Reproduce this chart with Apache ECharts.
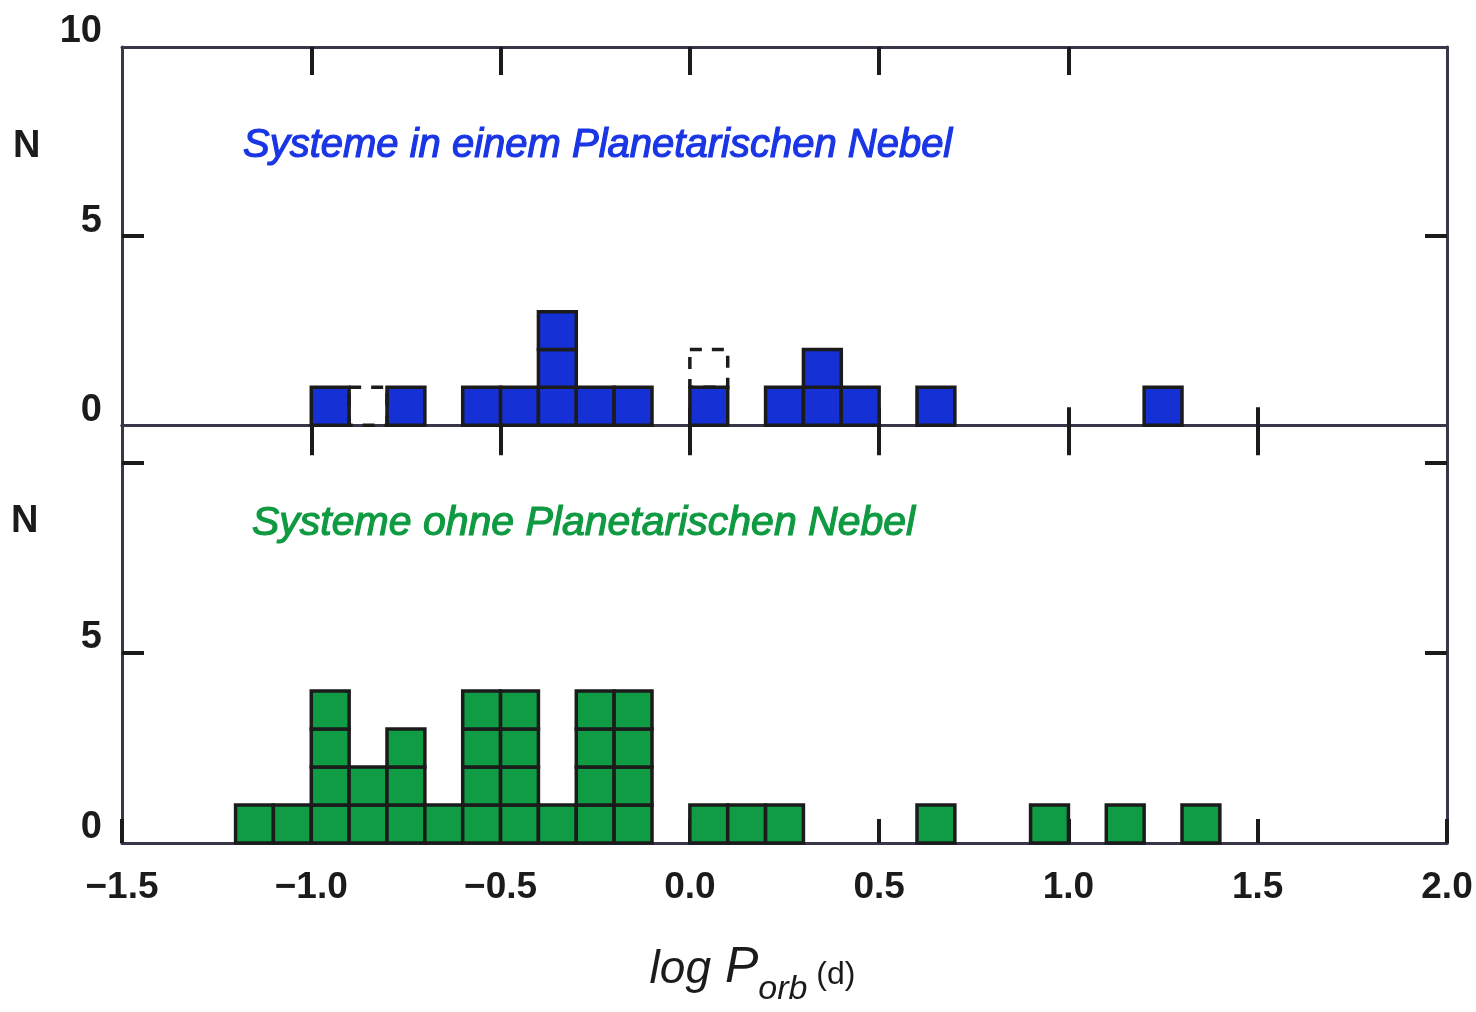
<!DOCTYPE html>
<html>
<head>
<meta charset="utf-8">
<script src="https://cdn.jsdelivr.net/npm/echarts@6/dist/echarts.min.js"></script>
<style>html,body{margin:0;padding:0;background:#fff}#c{width:1476px;height:1012px}</style>
</head>
<body>
<div id="c"></div>
<script>
// ---- data ----
const BIN = 0.1;
// Top panel: systems in a planetary nebula (bin lower edge, count)
const nebulaBins   = [-1.0, -0.8, -0.6, -0.5, -0.4, -0.3, -0.2, 0.0, 0.2, 0.3, 0.4, 0.6, 1.2];
const nebulaCounts = [ 1,    1,    1,    1,    3,    1,    1,   1,   1,   2,   1,   1,   1 ];
// dashed (uncertain) boxes: bin lower edge, level at which the box starts
const nebulaUncertainBins  = [-0.9, 0.0];
const nebulaUncertainLevel = [ 0,   1  ];
// Bottom panel: systems without planetary nebula
const noNebulaBins   = [-1.2, -1.1, -1.0, -0.9, -0.8, -0.7, -0.6, -0.5, -0.4, -0.3, -0.2, 0.0, 0.1, 0.2, 0.6, 0.9, 1.1, 1.3];
const noNebulaCounts = [ 1,    1,    4,    2,    3,    1,    4,    4,    1,    4,    4,   1,   1,   1,   1,   1,   1,   1 ];
// tick values
const xTickLabels = [-1.5, -1.0, -0.5, 0.0, 0.5, 1.0, 1.5, 2.0];
const topFrameTicks = [-1.0, -0.5, 0.0, 0.5, 1.0];
const baselineTicks = [-1.0, -0.5, 0.0, 0.5, 1.0, 1.5];
const topYLabels = [0, 5, 10];
const topYTicks = [5];
const botYLabels = [0, 5];
const botYTicks = [5, 10];

const titleTop = 'Systeme in einem Planetarischen Nebel';
const titleBot = 'Systeme ohne Planetarischen Nebel';

// ---- styling ----
const LINE = '#3a3548';
const INK = '#1b1b1b';
const FONT = "'Liberation Sans', Arial, sans-serif";

function squares(color) {
  return function (params, api) {
    const x0 = api.value(0), n = api.value(1);
    const children = [];
    for (let k = 0; k < n; k++) {
      const p0 = api.coord([x0, k]);
      const p1 = api.coord([x0 + BIN, k + 1]);
      children.push({
        type: 'rect',
        shape: { x: p0[0], y: p1[1], width: p1[0] - p0[0], height: p0[1] - p1[1] },
        style: { fill: color, stroke: INK, lineWidth: 3.5 }
      });
    }
    return { type: 'group', children };
  };
}
function dashedBox(params, api) {
  const x0 = api.value(0), lv = api.value(1);
  const p0 = api.coord([x0, lv]);
  const p1 = api.coord([x0 + BIN, lv + 1]);
  return {
    type: 'rect',
    shape: { x: p0[0], y: p1[1], width: p1[0] - p0[0], height: p0[1] - p1[1] },
    style: { fill: 'none', stroke: INK, lineWidth: 3.5, lineDash: [12, 10] }
  };
}

const xBase = { type: 'value', min: -1.5, max: 2.0, interval: 0.5, splitLine: { show: false } };
const axLine = { show: true, onZero: false, lineStyle: { color: LINE, width: 3 } };
const yLabelStyle = { show: true, margin: 20, verticalAlign: 'bottom', lineHeight: 30,
  fontFamily: FONT, fontWeight: 'bold', fontSize: 38, color: INK };

const option = {
  backgroundColor: '#ffffff',
  animation: false,
  grid: [
    { left: 122, right: 29, top: 47, height: 416 },       // top panel (y -1..10)
    { left: 122, right: 29, top: 463, bottom: 169 },      // bottom panel (y 0..10)
    { left: 122, right: 29, top: 47, height: 416 }        // overlay for inward baseline ticks
  ],
  title: [
    { text: 'N', left: 13, top: 128, padding: 0, textStyle: { fontFamily: FONT, fontWeight: 'bold', fontSize: 38, color: INK } },
    { text: 'N', left: 11, top: 503, padding: 0, textStyle: { fontFamily: FONT, fontWeight: 'bold', fontSize: 38, color: INK } },
    { text: titleTop, left: 243, top: 126, padding: 0, textStyle: { fontFamily: FONT, fontStyle: 'italic', fontWeight: 'normal', fontSize: 40, color: '#1a36e4', textBorderColor: '#1a36e4', textBorderWidth: 1.2 } },
    { text: titleBot, left: 252, top: 503, padding: 0, textStyle: { fontFamily: FONT, fontStyle: 'italic', fontWeight: 'normal', fontSize: 41, color: '#0f9a42', textBorderColor: '#0f9a42', textBorderWidth: 1.2 } }
  ],
  xAxis: [
    Object.assign({}, xBase, { gridIndex: 0, position: 'top', axisLine: axLine,
      axisTick: { show: true, inside: true, length: 28, customValues: topFrameTicks, lineStyle: { color: INK, width: 4 } },
      axisLabel: { show: false } }),
    Object.assign({}, xBase, { gridIndex: 0, position: 'bottom',
      axisLine: { show: true, onZero: true, lineStyle: { color: LINE, width: 3 } },
      axisTick: { show: true, inside: false, length: 30, customValues: baselineTicks, lineStyle: { color: INK, width: 4 } },
      axisLabel: { show: false } }),
    Object.assign({}, xBase, { gridIndex: 1, position: 'bottom', axisLine: axLine,
      axisTick: { show: true, inside: true, length: 24, lineStyle: { color: INK, width: 4 } },
      axisLabel: { show: true, margin: 26, fontFamily: FONT, fontWeight: 'bold', fontSize: 37, color: INK,
        customValues: xTickLabels,
        formatter: v => (v < 0 ? '\u2212' : '') + Math.abs(v).toFixed(1) },
      name: '{a|log}{p| P}{b|orb}{c| (d)}', nameLocation: 'middle', nameGap: 100,
      nameTextStyle: { padding: [0, 64, 0, 0],
        rich: {
          a: { fontFamily: FONT, fontStyle: 'italic', fontSize: 46, color: INK, verticalAlign: 'bottom', padding: [0, 0, 14, 0] },
          p: { fontFamily: FONT, fontStyle: 'italic', fontSize: 50, color: INK, verticalAlign: 'bottom', padding: [0, 0, 14, 0] },
          b: { fontFamily: FONT, fontStyle: 'italic', fontSize: 34, color: INK, verticalAlign: 'bottom' },
          c: { fontFamily: FONT, fontSize: 32, color: INK, verticalAlign: 'bottom', padding: [0, 0, 16, 0] }
        } } }),
    Object.assign({}, xBase, { gridIndex: 2, position: 'bottom',
      axisLine: { show: true, onZero: true, lineStyle: { color: LINE, width: 3 } },
      axisTick: { show: true, inside: true, length: 18, customValues: baselineTicks, lineStyle: { color: INK, width: 4 } },
      axisLabel: { show: false } })
  ],
  yAxis: [
    { type: 'value', gridIndex: 0, position: 'left', min: -1, max: 10, splitLine: { show: false }, axisLine: axLine,
      axisTick: { show: true, inside: true, length: 22, customValues: topYTicks, lineStyle: { color: INK, width: 4 } },
      axisLabel: Object.assign({ customValues: topYLabels }, yLabelStyle) },
    { type: 'value', gridIndex: 0, position: 'right', min: -1, max: 10, splitLine: { show: false }, axisLine: axLine,
      axisTick: { show: true, inside: true, length: 22, customValues: topYTicks, lineStyle: { color: INK, width: 4 } },
      axisLabel: { show: false } },
    { type: 'value', gridIndex: 1, position: 'left', min: 0, max: 10, splitLine: { show: false }, axisLine: axLine,
      axisTick: { show: true, inside: true, length: 22, customValues: botYTicks, lineStyle: { color: INK, width: 4 } },
      axisLabel: Object.assign({ customValues: botYLabels }, yLabelStyle) },
    { type: 'value', gridIndex: 1, position: 'right', min: 0, max: 10, splitLine: { show: false }, axisLine: axLine,
      axisTick: { show: true, inside: true, length: 22, customValues: botYTicks, lineStyle: { color: INK, width: 4 } },
      axisLabel: { show: false } },
    { type: 'value', gridIndex: 2, min: -1, max: 10, show: false, axisLine: { onZero: false } }
  ],
  series: [
    { type: 'custom', name: 'PN', xAxisIndex: 1, yAxisIndex: 0, renderItem: squares('#1531d6'),
      data: nebulaBins.map((b, i) => [b, nebulaCounts[i]]), z: 3 },
    { type: 'custom', name: 'PN uncertain', xAxisIndex: 1, yAxisIndex: 0, renderItem: dashedBox,
      data: nebulaUncertainBins.map((b, i) => [b, nebulaUncertainLevel[i]]), z: 4 },
    { type: 'custom', name: 'no PN', xAxisIndex: 2, yAxisIndex: 2, renderItem: squares('#0f9c45'),
      data: noNebulaBins.map((b, i) => [b, noNebulaCounts[i]]), z: 3 }
  ]
};
const chart = echarts.init(document.getElementById('c'), null, { renderer: 'canvas' });
chart.setOption(option);
</script>
</body>
</html>
